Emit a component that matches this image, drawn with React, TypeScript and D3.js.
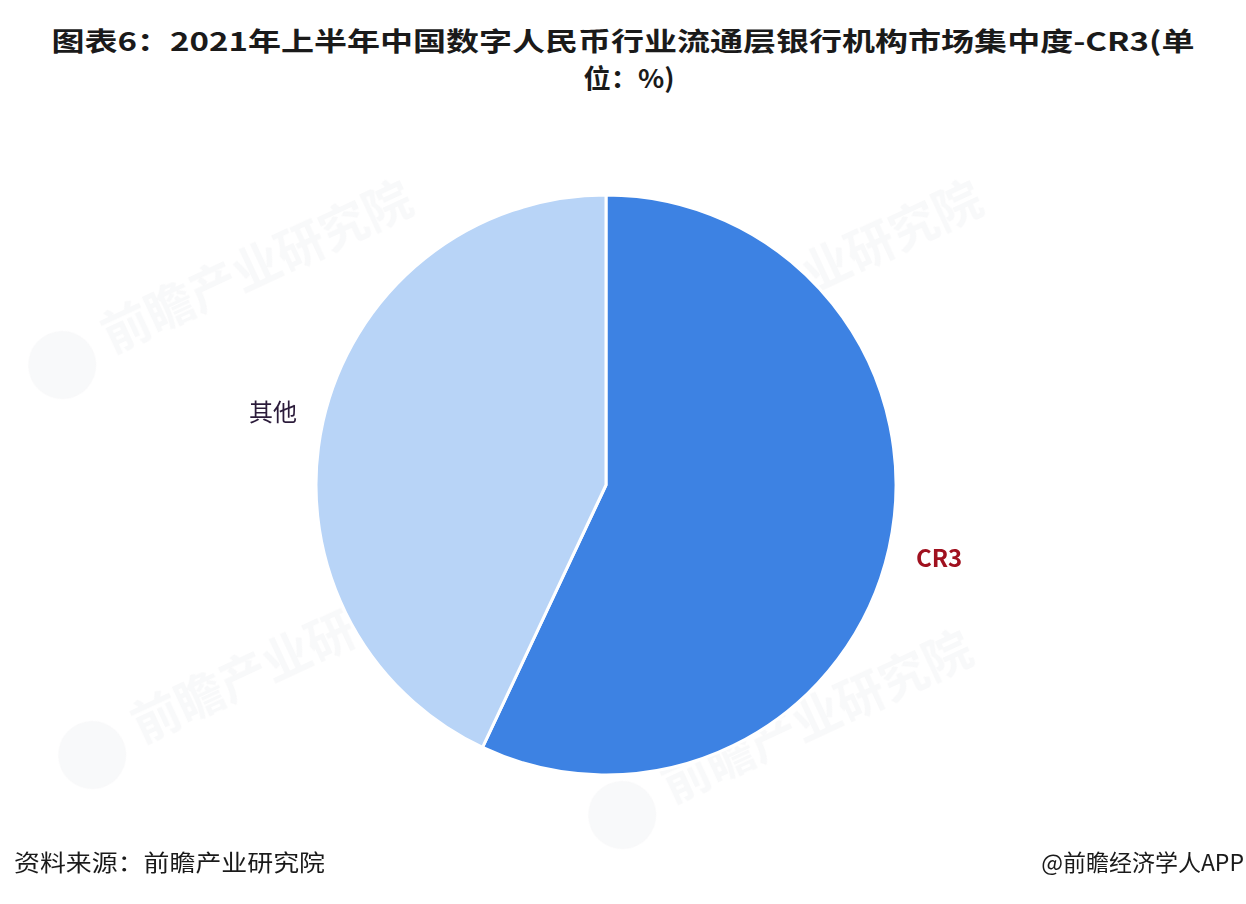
import React from "react";
import * as d3 from "d3";

const categories = ["CR3", "其他"];
const shares = [57, 43];
const sliceColors = ["#3D82E3", "#B8D4F7"];
const labelColors = ["#A0111F", "#2B1B3A"];

const titleLines = [
  "图表6：2021年上半年中国数字人民币行业流通层银行机构市场集中度-CR3(单",
  "位：%)",
];
const sourceText = "资料来源：前瞻产业研究院";
const creditText = "@前瞻经济学人APP";
const watermarkText = "前瞻产业研究院";

const W = 1246;
const H = 904;
const cx = 606;
const cy = 485;
const R = 290;

export default function App() {
  const pie = d3
    .pie<number>()
    .sort(null)
    .startAngle(0)
    .endAngle(2 * Math.PI)(shares);
  const arc = d3.arc<d3.PieArcDatum<number>>().innerRadius(0).outerRadius(R);
  const labelArc = d3
    .arc<d3.PieArcDatum<number>>()
    .innerRadius(R + 50)
    .outerRadius(R + 50);

  const font = "'Noto Sans CJK SC', 'Noto Sans', sans-serif";
  const marks = [
    { x: 90, y: 330 },
    { x: 660, y: 330 },
    { x: 120, y: 720 },
    { x: 650, y: 780 },
  ];

  return (
    <svg width={W} height={H} style={{ position: "absolute", left: 0, top: 0, background: "#fff" }}>
      <rect width={W} height={H} fill="#ffffff" />
      {/* faint watermark */}
      <g fill="#9aa0ad" opacity={0.07} fontFamily={font}>
        {marks.map((m, i) => (
          <g key={i} transform={`translate(${m.x},${m.y}) rotate(-25)`}>
            <circle cx={-40} cy={20} r={34} />
            <text x={10} y={30} fontSize={48} fontWeight={700}>
              {watermarkText}
            </text>
          </g>
        ))}
      </g>
      <g fontFamily={font} fontWeight={700} fill="#1a1a1a" textAnchor="middle">
        <text x={623} y={51} fontSize={26} textLength={1143} lengthAdjust="spacingAndGlyphs">
          {titleLines[0]}
        </text>
        <text x={629} y={88} fontSize={26} textLength={91} lengthAdjust="spacingAndGlyphs">
          {titleLines[1]}
        </text>
      </g>
      <g transform={`translate(${cx},${cy})`}>
        {pie.map((d, i) => (
          <path
            key={categories[i]}
            d={arc(d) || ""}
            fill={sliceColors[i]}
            stroke="#ffffff"
            strokeWidth={3}
            strokeLinejoin="round"
          />
        ))}
      </g>
      <g fontFamily={font}>
        {pie.map((d, i) => {
          const [lx] = labelArc.centroid(d);
          const isRight = lx > 0;
          return (
            <text
              key={categories[i]}
              x={cx + (isRight ? 310 : -309)}
              y={cy + (isRight ? 75 : -71)}
              fontSize={isRight ? 24 : 24}
              fontWeight={isRight ? 700 : 400}
              fill={labelColors[i]}
              textAnchor={isRight ? "start" : "end"}
              dominantBaseline="middle"
            >
              {categories[i]}
            </text>
          );
        })}
      </g>
      <g fontFamily={font} fill="#1a1a1a" fontSize={23}>
        <text x={14} y={871} textLength={311} lengthAdjust="spacingAndGlyphs">
          {sourceText}
        </text>
        <text x={1244} y={871} textAnchor="end">
          {creditText}
        </text>
      </g>
    </svg>
  );
}
